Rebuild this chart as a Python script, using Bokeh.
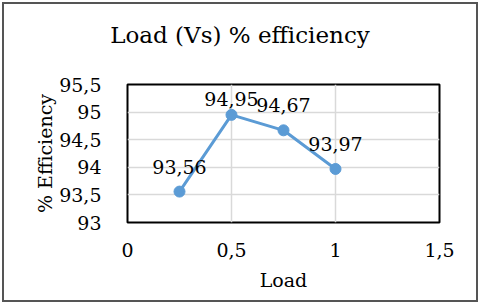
from bokeh.plotting import figure
from bokeh.models import FixedTicker, Range1d, ColumnDataSource, Div
from bokeh.layouts import column
from bokeh.core.properties import value
from bokeh.embed import file_html
from bokeh.resources import INLINE

# ---- data ----
load = [0.25, 0.5, 0.75, 1.0]
efficiency = [93.56, 94.95, 94.67, 93.97]
x_ticks = [0, 0.5, 1, 1.5]
x_tick_labels = ["0", "0,5", "1", "1,5"]
y_ticks = [93, 93.5, 94, 94.5, 95, 95.5]
y_tick_labels = ["93", "93,5", "94", "94,5", "95", "95,5"]
title_text = "Load (Vs) % efficiency"
x_title = "Load"
y_title = "% Efficiency"

BLUE = "#5B9BD5"
FONT = "DejaVu Serif"

W = 472
TITLE_H = 60
H = 296 - TITLE_H
left, right, top, bottom = 123, 37, 20, 78
xmin, xmax = 0, 1.5
ymin, ymax = 93, 95.5
frame_h = H - top - bottom

title = Div(text=(f'<div style="font-family:\'{FONT}\';font-size:23px;'
                  f'text-align:center;width:{W}px;line-height:30px;'
                  f'padding-top:16px;color:#000000">{title_text}</div>'),
            width=W, height=TITLE_H, margin=0)

p = figure(width=W, height=H, output_backend="svg", toolbar_location=None,
           x_range=Range1d(xmin, xmax), y_range=Range1d(ymin, ymax),
           min_border_left=left, min_border_right=right,
           min_border_top=top, min_border_bottom=bottom)

p.outline_line_color = "#000000"
p.outline_line_width = 2

p.xaxis.ticker = FixedTicker(ticks=x_ticks)
p.yaxis.ticker = FixedTicker(ticks=y_ticks)
p.xaxis.major_label_overrides = dict(zip(x_ticks, x_tick_labels))
p.yaxis.major_label_overrides = dict(zip(y_ticks, y_tick_labels))
for ax in (p.xaxis, p.yaxis):
    ax.axis_line_color = None
    ax.major_tick_line_color = None
    ax.minor_tick_line_color = None
    ax.major_label_text_font = FONT
    ax.major_label_text_font_size = "19px"
    ax.major_label_text_color = "#000000"
    ax.axis_label_text_font = FONT
    ax.axis_label_text_font_size = "19px"
    ax.axis_label_text_font_style = "normal"
    ax.axis_label_text_color = "#000000"
p.xaxis.axis_label = x_title
p.yaxis.axis_label = y_title
p.xaxis.major_label_standoff = 14
p.yaxis.major_label_standoff = 20
p.xaxis.axis_label_standoff = 9
p.yaxis.axis_label_standoff = 0

p.grid.grid_line_color = "#D9D9D9"
p.grid.grid_line_width = 1.5
p.xgrid.ticker = FixedTicker(ticks=x_ticks)
p.ygrid.ticker = FixedTicker(ticks=y_ticks)

p.line(load, efficiency, line_color=BLUE, line_width=3)
p.scatter(load, efficiency, size=11, fill_color=BLUE, line_color=BLUE)

# data labels above points, kept inside the plot area
offsets = []
for v in efficiency:
    py = (ymax - v) / (ymax - ymin) * frame_h
    offsets.append(-min(25, py - 14))
src = ColumnDataSource(dict(x=load, y=efficiency,
                            t=[f"{v:.2f}".replace(".", ",") for v in efficiency],
                            off=offsets))
p.text(x="x", y="y", text="t", source=src, y_offset="off",
       text_align="center", text_baseline="middle",
       text_font=value(FONT), text_font_size="19px",
       text_color="#000000")

layout = column(title, p, spacing=0,
                styles={"border": "2px solid #555555", "margin": "2px 0 0 2px"})

open("out.html", "w").write(file_html(layout, INLINE))
